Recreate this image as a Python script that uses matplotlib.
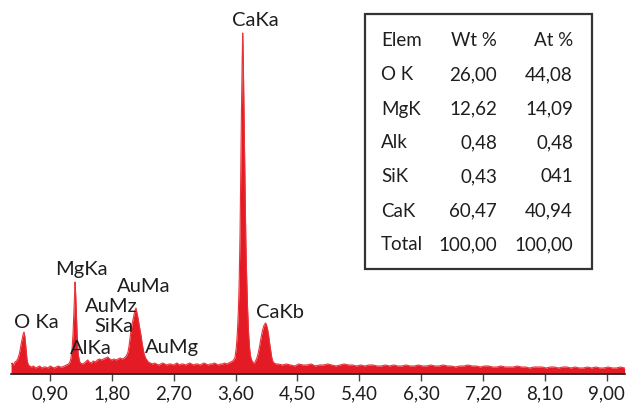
import matplotlib
matplotlib.use("Agg")
import matplotlib.pyplot as plt
from matplotlib.patches import Rectangle

plt.rcParams['font.family'] = ['Lato', 'DejaVu Sans']

# EDS spectrum (energy in keV, intensity in arbitrary units)
energy_kev = [
    0.333, 0.35, 0.37, 0.39, 0.41, 0.43, 0.45, 0.465, 0.48, 0.495, 0.51, 0.522,
    0.535, 0.55, 0.565, 0.58, 0.60,
    0.63, 0.66, 0.69, 0.72, 0.75, 0.78, 0.81, 0.84, 0.87, 0.90, 0.93, 0.96,
    0.99, 1.02, 1.05, 1.08, 1.11, 1.14, 1.17,
    1.19, 1.205, 1.22, 1.235, 1.25, 1.258, 1.265, 1.272, 1.28, 1.29, 1.30,
    1.31, 1.325, 1.34,
    1.37, 1.40, 1.43, 1.45, 1.47, 1.50, 1.53, 1.56, 1.59, 1.62, 1.65, 1.68,
    1.71, 1.74, 1.77, 1.80, 1.83, 1.86, 1.89, 1.92, 1.95, 1.98,
    2.01, 2.035, 2.05, 2.065, 2.08, 2.095, 2.11, 2.125, 2.14, 2.152, 2.165,
    2.18, 2.195, 2.21, 2.225, 2.24, 2.255, 2.27, 2.29, 2.31, 2.33, 2.36,
    2.39, 2.42, 2.45, 2.48, 2.51, 2.54, 2.57, 2.60, 2.63, 2.66, 2.69, 2.72,
    2.75, 2.78, 2.81, 2.84, 2.87, 2.90, 2.93, 2.96, 2.99, 3.02, 3.05, 3.08,
    3.11, 3.14, 3.17, 3.20, 3.23, 3.26, 3.29, 3.32, 3.35, 3.38, 3.41, 3.44,
    3.47, 3.50, 3.53,
    3.56, 3.59, 3.61, 3.625, 3.64, 3.652, 3.665, 3.675, 3.685, 3.695, 3.704,
    3.712, 3.72, 3.73, 3.74, 3.75, 3.762, 3.775, 3.79, 3.805, 3.82, 3.84,
    3.86, 3.875,
    3.89, 3.91, 3.93, 3.95, 3.97, 3.99, 4.01, 4.025, 4.038, 4.05, 4.065,
    4.08, 4.095, 4.11, 4.125, 4.14, 4.16, 4.19,
    4.22, 4.28, 4.34, 4.40, 4.46, 4.52, 4.58, 4.64, 4.70, 4.76, 4.82, 4.88,
    4.94, 5.00, 5.06, 5.12, 5.18, 5.24, 5.30, 5.36, 5.42, 5.48, 5.54, 5.60,
    5.66, 5.72, 5.78, 5.84, 5.90, 5.96, 6.02, 6.08, 6.14, 6.20, 6.26, 6.32,
    6.38, 6.44, 6.50, 6.56, 6.62, 6.68, 6.74, 6.80, 6.86, 6.92, 6.98, 7.04,
    7.10, 7.16, 7.22, 7.28, 7.34, 7.40, 7.46, 7.52, 7.58, 7.64, 7.70, 7.76,
    7.82, 7.88, 7.94, 8.00, 8.06, 8.12, 8.18, 8.24, 8.30, 8.36, 8.42, 8.48,
    8.54, 8.60, 8.66, 8.72, 8.78, 8.84, 8.90, 8.96, 9.02, 9.08, 9.14, 9.20,
    9.26,
]
counts = [
    10, 11, 9, 12, 13, 15, 19, 24, 30, 35, 40, 42,
    37, 26, 15, 10, 8,
    7, 8, 6, 7, 8, 6, 7, 7, 6, 8, 7, 6,
    7, 8, 7, 7, 8, 9, 10,
    12, 16, 24, 40, 65, 80, 92, 82, 68, 48, 30,
    20, 14, 11,
    10, 11, 13, 14, 12, 11, 13, 12, 14, 15, 14, 15,
    16, 17, 15, 14, 15, 14, 15, 16, 15, 16,
    18, 22, 28, 36, 44, 50, 55, 60, 64, 66, 61,
    56, 50, 44, 38, 31, 25, 20, 16, 14, 12, 11,
    10, 11, 10, 9, 10, 11, 10, 9, 10, 10, 9, 10,
    11, 9, 10, 10, 9, 10, 11, 10, 9, 10, 10, 9,
    10, 11, 10, 9, 10, 10, 11, 10, 9, 10, 10, 11,
    10, 11, 12,
    13, 16, 26, 40, 62, 90, 140, 200, 260, 310, 341,
    315, 275, 225, 175, 130, 95, 65, 40, 25, 17, 13,
    11, 11,
    13, 16, 21, 28, 36, 43, 48, 50, 51, 49, 45,
    39, 31, 24, 17, 13, 11, 10,
    10, 9, 10, 9, 8, 10, 9, 9, 10, 8,
    9, 9, 10, 9, 8, 9, 10, 9, 9, 8,
    9, 8, 9, 9, 8, 8, 9, 8, 9, 8,
    8, 9, 8, 8, 9, 8, 8, 9, 8, 8,
    9, 8, 8, 7, 8, 8, 9, 8, 8, 7,
    8, 8, 7, 7, 8, 7, 7, 7, 8, 7,
    7, 6, 7, 7, 7, 6, 7, 7, 6, 7,
    7, 6, 7, 6, 6, 7, 6, 7, 6, 6,
    7, 6, 6, 7, 6,
]

# peak labels: name, energy (keV), intensity at label centre
peak_names = ['O Ka', 'MgKa', 'AlKa', 'SiKa', 'AuMz', 'AuMa', 'AuMg', 'CaKa', 'CaKb']
peak_label_x = [0.70, 1.36, 1.49, 1.83, 1.79, 2.26, 2.68, 3.88, 4.24]
peak_label_y = [52, 105, 26, 47, 67, 87, 26, 354, 62]

tick_values = [0.90, 1.80, 2.70, 3.60, 4.50, 5.40, 6.30, 7.20, 8.10, 9.00]
tick_labels = ['0,90', '1,80', '2,70', '3,60', '4,50', '5,40', '6,30', '7,20', '8,10', '9,00']

# composition table
elements = ['Elem', 'O K', 'MgK', 'Alk', 'SiK', 'CaK', 'Total']
wt_pct = ['Wt %', '26,00', '12,62', '0,48', '0,43', '60,47', '100,00']
at_pct = ['At %', '44,08', '14,09', '0,48', '041', '40,94', '100,00']

W, H = 629, 408
fig = plt.figure(figsize=(W / 100, H / 100), dpi=100)
ax = fig.add_axes([11 / W, 34 / H, 614 / W, 374 / H])

red = '#e41b24'
ax.fill_between(energy_kev, counts, 0, color=red, linewidth=0)
ax.plot(energy_kev, counts, color='#e83339', linewidth=0.8)

ax.set_xlim(0.3326, 9.266)
ax.set_ylim(0, 374)
for s in ['top', 'right', 'left']:
    ax.spines[s].set_visible(False)
ax.spines['bottom'].set_color('#222222')
ax.spines['bottom'].set_linewidth(1.2)
ax.set_yticks([])
ax.set_xticks(tick_values)
ax.set_xticklabels(tick_labels, fontsize=13.5, color='#1e1e1e')
ax.tick_params(axis='x', direction='out', length=5, width=1, color='#444444', pad=3)

for name, x, y in zip(peak_names, peak_label_x, peak_label_y):
    ax.text(x, y, name, fontsize=14.5, color='#1e1e1e', ha='center', va='center')


def px(x, y):
    return x / W, 1 - y / H


box_x0, box_y0 = px(365, 269)
box_x1, box_y1 = px(592, 14)
fig.patches.append(Rectangle((box_x0, box_y0), box_x1 - box_x0, box_y1 - box_y0,
                             transform=fig.transFigure, fill=False,
                             edgecolor='#333333', linewidth=1.6))

for i in range(len(elements)):
    yy = 41 + 34 * i
    fig.text(*px(381, yy), elements[i], fontsize=13.5, color='#1e1e1e', ha='left', va='center')
    fig.text(*px(497, yy), wt_pct[i], fontsize=13.5, color='#1e1e1e', ha='right', va='center')
    fig.text(*px(573, yy), at_pct[i], fontsize=13.5, color='#1e1e1e', ha='right', va='center')

fig.savefig('out.png', dpi=100)
